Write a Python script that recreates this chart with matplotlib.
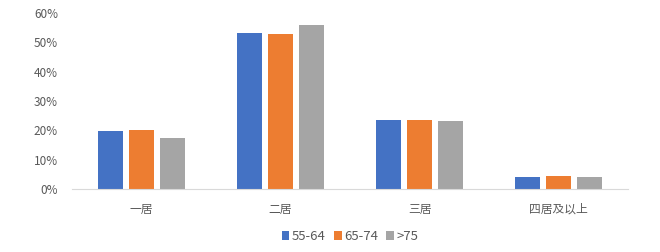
import matplotlib
matplotlib.use("Agg")
import matplotlib.pyplot as plt
import numpy as np
from matplotlib.ticker import FuncFormatter

plt.rcParams['font.family'] = ['Noto Sans CJK SC', 'DejaVu Sans']

categories = ['一居', '二居', '三居', '四居及以上']
series_names = ['55-64', '65-74', '>75']
s_55_64 = [19.8, 53.1, 23.5, 4.0]
s_65_74 = [20.1, 52.8, 23.4, 4.3]
s_75 = [17.4, 55.9, 23.3, 4.0]
colors = ['#4472C4', '#ED7D31', '#A5A5A5']

fig = plt.figure(figsize=(6.6, 2.52), dpi=100)
ax = fig.add_axes([0.109, 0.25, 0.843, 0.698])

x = np.arange(len(categories))
w = 0.18
off = 0.222
for i, (vals, name) in enumerate(zip([s_55_64, s_65_74, s_75], series_names)):
    ax.bar(x + (i - 1) * off, vals, width=w, color=colors[i], label=name)

ax.set_xlim(-0.5, len(categories) - 0.5)
ax.set_ylim(0, 60)
ax.set_yticks(range(0, 61, 10))
ax.yaxis.set_major_formatter(FuncFormatter(lambda v, p: f"{int(v)}%"))
ax.set_xticks(x)
ax.set_xticklabels(categories, fontstyle='italic')
for s in ['top', 'right', 'left']:
    ax.spines[s].set_visible(False)
ax.spines['bottom'].set_color('#D9D9D9')
ax.tick_params(axis='both', length=0, colors='#595959', labelsize=8.5)
ax.tick_params(axis='x', pad=10)
ax.tick_params(axis='y', pad=10)

ax.legend(loc='center', bbox_to_anchor=(0.5, -0.27), ncol=3, frameon=False,
          handlelength=0.6, handleheight=0.6, handletextpad=0.2, columnspacing=0.6,
          fontsize=9.5, labelcolor='#595959')

fig.savefig('out.png', dpi=100, facecolor='white')
